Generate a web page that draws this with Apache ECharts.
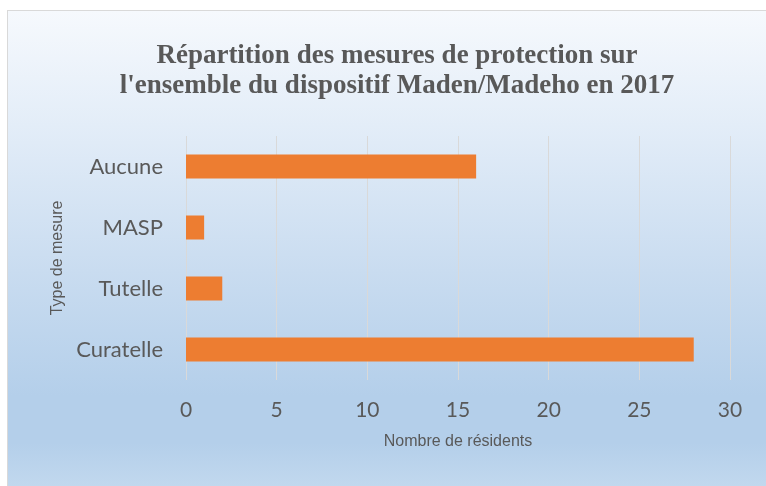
<!DOCTYPE html>
<html>
<head>
<meta charset="utf-8">
<script src="https://cdn.jsdelivr.net/npm/echarts@6/dist/echarts.min.js"></script>
<style>
html,body{margin:0;padding:0;background:#fff;width:766px;height:486px;overflow:hidden;}
#bg{position:absolute;left:7px;top:10px;width:800px;height:520px;border:1px solid #d9d9d9;
background:linear-gradient(to bottom,#f6f9fd 0%,#e3edf8 22%,#c9dcf0 50%,#b4cfea 74%,#b4cfea 83%,#cfe1f2 100%);}
#chart{position:absolute;left:0;top:0;width:766px;height:486px;}
</style>
</head>
<body>
<div id="bg"></div>
<div id="chart"></div>
<script>
const titleLines = ["Répartition des mesures de protection sur", "l'ensemble du dispositif Maden/Madeho en 2017"];
const categories = ["Curatelle", "Tutelle", "MASP", "Aucune"];
const values = [28, 2, 1, 16];
const xName = "Nombre de résidents";
const yName = "Type de mesure";
const xMin = 0, xMax = 30, xStep = 5;

const chart = echarts.init(document.getElementById('chart'), null, {renderer: 'canvas'});
chart.setOption({
  backgroundColor: 'transparent',
  animation: false,
  title: {
    text: titleLines.join('\n'),
    left: 392,
    top: 36,
    textAlign: 'center',
    textStyle: {
      fontFamily: 'Liberation Serif',
      fontWeight: 'bold',
      fontSize: 27,
      lineHeight: 30,
      color: '#595959'
    }
  },
  grid: {left: 186, right: 36, top: 136, bottom: 106, containLabel: false},
  xAxis: {
    type: 'value',
    min: xMin, max: xMax, interval: xStep,
    name: xName,
    nameLocation: 'middle',
    nameGap: 54,
    nameTextStyle: {fontFamily: 'Liberation Sans', fontSize: 16, color: '#595959'},
    axisLine: {show: false},
    axisTick: {show: false},
    splitLine: {show: true, lineStyle: {color: '#d9d9d9', width: 1}},
    axisLabel: {fontFamily: 'Lato', fontSize: 21, color: '#595959', margin: 20}
  },
  yAxis: {
    type: 'category',
    data: categories,
    name: yName,
    nameLocation: 'middle',
    nameGap: 120,
    nameRotate: 90,
    nameTextStyle: {fontFamily: 'Liberation Sans', fontSize: 16, color: '#595959'},
    axisLine: {show: false},
    axisTick: {show: false},
    axisLabel: {fontFamily: 'Lato', fontSize: 22, color: '#595959', margin: 23}
  },
  series: [{
    type: 'bar',
    data: values,
    barWidth: 24,
    itemStyle: {color: '#ED7D31'}
  }]
});
</script>
</body>
</html>
